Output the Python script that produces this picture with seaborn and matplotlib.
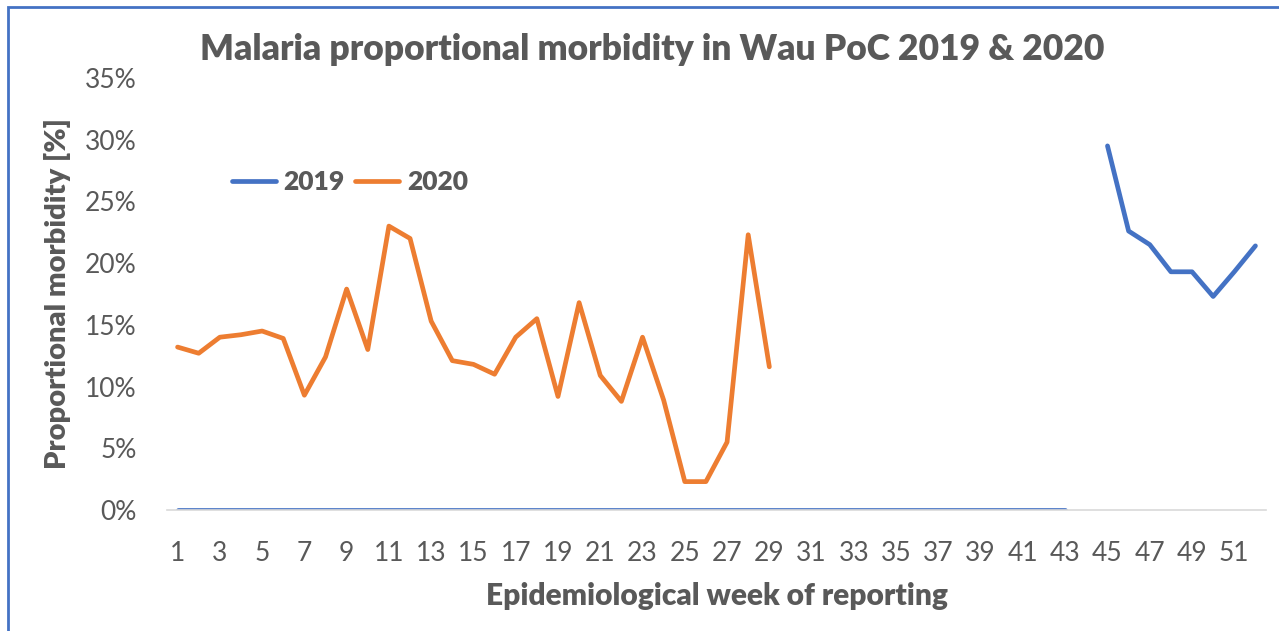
import numpy as np
import pandas as pd
import matplotlib
matplotlib.use("Agg")
import matplotlib.pyplot as plt
import seaborn as sns
from matplotlib.patches import Rectangle
from matplotlib.ticker import FuncFormatter, FixedLocator

# ---- data ----
weeks_2019_a = list(range(1, 44))
values_2019_a = [0.0] * 43
weeks_2019_b = [45, 46, 47, 48, 49, 50, 51, 52]
values_2019_b = [29.5, 22.6, 21.5, 19.3, 19.3, 17.3, 19.3, 21.4]
weeks_2020 = list(range(1, 30))
values_2020 = [13.2, 12.7, 14.0, 14.2, 14.5, 13.9, 9.3, 12.4, 17.9, 13.0,
               23.0, 22.0, 15.3, 12.1, 11.8, 11.0, 14.0, 15.5, 9.2, 16.8,
               10.9, 8.8, 14.0, 8.9, 2.3, 2.3, 5.5, 22.3, 11.6]
x_tick_labels = list(range(1, 52, 2))
y_ticks = [0, 5, 10, 15, 20, 25, 30, 35]

title = "Malaria proportional morbidity in Wau PoC 2019 & 2020"
x_label = "Epidemiological week of reporting"
y_label = "Proportional morbidity [%]"

df = pd.concat([
    pd.DataFrame({"week": weeks_2019_a, "value": values_2019_a, "year": "2019", "seg": "a"}),
    pd.DataFrame({"week": weeks_2019_b, "value": values_2019_b, "year": "2019", "seg": "b"}),
    pd.DataFrame({"week": weeks_2020, "value": values_2020, "year": "2020", "seg": "c"}),
], ignore_index=True)

sns.set_theme(style="white")
plt.rcParams["font.family"] = ["Lato", "DejaVu Sans"]
text_color = "#595959"

fig = plt.figure(figsize=(12.79, 6.31), dpi=100)
ax = fig.add_axes([167/1279, 1 - 510/631, (1266-167)/1279, (510-78)/631])

palette = {"2019": "#4472C4", "2020": "#ED7D31"}
sns.lineplot(data=df, x="week", y="value", hue="year", units="seg",
             estimator=None, palette=palette, linewidth=3.4, ax=ax,
             solid_capstyle="round", solid_joinstyle="round")

ax.set_xlim(0.5, 52.5)
ax.set_ylim(0, 35)
ax.xaxis.set_major_locator(FixedLocator(x_tick_labels))
ax.set_xticklabels([str(v) for v in x_tick_labels])
ax.yaxis.set_major_locator(FixedLocator(y_ticks))
ax.yaxis.set_major_formatter(FuncFormatter(lambda v, p: f"{v:.0f}%"))
ax.tick_params(axis="both", length=0, labelsize=19, colors=text_color)
ax.tick_params(axis="y", pad=22)
ax.tick_params(axis="x", pad=22)

for s in ["top", "right", "left"]:
    ax.spines[s].set_visible(False)
ax.spines["bottom"].set_color("#D9D9D9")
ax.spines["bottom"].set_linewidth(1.2)
ax.grid(False)

ax.set_xlabel(x_label, fontsize=21.5, fontweight="heavy", color=text_color, labelpad=12)
ax.set_ylabel(y_label, fontsize=21, fontweight="heavy", color=text_color, labelpad=10)
fig.text(652/1279, 1 - 50/631, title, ha="center", va="center",
         fontsize=25.5, fontweight="heavy", color=text_color)

leg = ax.legend(loc="center", bbox_to_anchor=(0.1665, 0.759), ncol=2, frameon=False,
                fontsize=19, handlelength=1.65, handletextpad=0.3, columnspacing=0.4,
                title=None)
for t in leg.get_texts():
    t.set_fontweight("heavy")
    t.set_color(text_color)
for h in leg.get_lines():
    h.set_linewidth(3.4)

fig.patches.append(Rectangle((8/1279, -0.1), 1.2, 1.1 - 7/631, transform=fig.transFigure,
                             fill=False, edgecolor="#4472C4", linewidth=2.0))

fig.savefig("out.png", dpi=100)
